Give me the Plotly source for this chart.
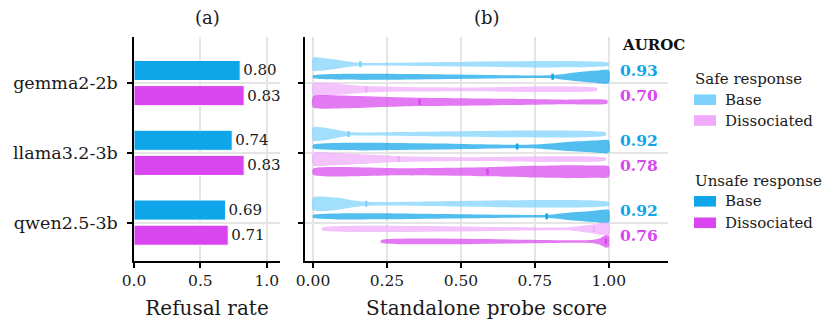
import numpy as np
import plotly.graph_objects as go

# ---------------- data ----------------
models = ["gemma2-2b", "llama3.2-3b", "qwen2.5-3b"]
refusal_base = [0.80, 0.74, 0.69]
refusal_dissoc = [0.83, 0.83, 0.71]
auroc_base = [0.93, 0.92, 0.92]
auroc_dissoc = [0.70, 0.78, 0.76]
xticks_a = [0.0, 0.5, 1.0]
xticks_b = [0.0, 0.25, 0.5, 0.75, 1.0]

# violin density profiles (score knots, relative density)
safe_base_x = [[0, 0.03, 0.08, 0.13, 0.17, 1.0],
               [0, 0.04, 0.08, 0.11, 0.13, 0.99],
               [0, 0.08, 0.125, 0.18, 0.25, 1.0]]
safe_base_d = [[1.0, 0.97, 0.7, 0.35, 0.2, 0.2],
               [1.0, 0.95, 0.6, 0.35, 0.25, 0.22],
               [1.0, 0.95, 0.6, 0.3, 0.25, 0.25]]
unsafe_base_x = [[0, 0.8, 0.86, 0.91, 0.96, 1.0],
                 [0, 0.7, 0.77, 0.86, 0.95, 1.0],
                 [0, 0.79, 0.86, 0.95, 1.0]]
unsafe_base_d = [[0.2, 0.22, 0.5, 0.77, 0.95, 1.0],
                 [0.27, 0.27, 0.35, 0.7, 0.92, 0.97],
                 [0.2, 0.22, 0.55, 0.87, 0.97]]
safe_dis_x = [[0, 0.04, 0.1, 0.18, 0.3, 0.5, 0.96],
              [0, 0.07, 0.18, 0.29, 0.52, 0.99],
              [0.03, 0.85, 0.9, 0.95, 1.0]]
safe_dis_d = [[0.95, 1.0, 0.8, 0.5, 0.35, 0.28, 0.18],
              [0.95, 0.95, 0.7, 0.46, 0.3, 0.2],
              [0.2, 0.22, 0.4, 0.7, 0.97]]
unsafe_dis_x = [[0, 0.08, 0.2, 0.36, 0.63, 0.85, 0.995],
                [0, 0.3, 0.59, 0.75, 0.86, 0.95, 1.0],
                [0.23, 0.94, 0.97, 0.99, 1.0]]
unsafe_dis_d = [[0.88, 1.0, 0.85, 0.65, 0.5, 0.35, 0.25],
                [0.46, 0.54, 0.7, 0.9, 1.0, 0.95, 0.82],
                [0.2, 0.22, 0.5, 0.95, 0.85]]
safe_base_med = [0.16, 0.12, 0.18]
unsafe_base_med = [0.81, 0.69, 0.79]
safe_dis_med = [0.18, 0.29, 0.95]
unsafe_dis_med = [0.36, 0.59, 0.99]

# ---------------- styling ----------------
W, H = 828, 324
ML, MR, MT, MB = 134, 160, 37, 63
FONT = "DejaVu Serif"
C_BASE = "#0ea5e9"
C_DIS = "#d946ef"
C_SBASE = "#7dd3fc"
C_SDIS = "#f0abfc"
GRID = "#e5e5e5"
TXT = "#1a1a1a"


def rgba(hexc, a):
    h = hexc.lstrip("#")
    return "rgba(%d,%d,%d,%.2f)" % (int(h[0:2], 16), int(h[2:4], 16), int(h[4:6], 16), a)


def pxx(p):
    return (p - ML) / (W - ML - MR)


def pxy(p):
    return 1 - (p - MT) / (H - MT - MB)


fig = go.Figure()
pos = list(range(len(models)))

# panel (a): bars
for vals, col in [(refusal_base, C_BASE), (refusal_dissoc, C_DIS)]:
    fig.add_trace(go.Bar(x=vals, y=pos, orientation="h", marker_color=col,
                         marker_line=dict(color="white", width=1),
                         texttemplate="%{x:.2f}", textposition="outside",
                         textfont=dict(size=15, color=TXT, family=FONT),
                         cliponaxis=False, showlegend=False, xaxis="x", yaxis="y"))

# panel (b): violins
HW = 0.093
series = [
    (safe_base_x, safe_base_d, safe_base_med, -0.27, C_SBASE),
    (unsafe_base_x, unsafe_base_d, unsafe_base_med, -0.09, C_BASE),
    (safe_dis_x, safe_dis_d, safe_dis_med, 0.09, C_SDIS),
    (unsafe_dis_x, unsafe_dis_d, unsafe_dis_med, 0.27, C_DIS),
]
for xs_all, ds_all, meds, off, col in series:
    for i in pos:
        xs = np.array(xs_all[i], dtype=float)
        ds = np.array(ds_all[i], dtype=float)
        c = i + off
        X = np.concatenate([xs, xs[::-1], xs[:1]])
        Y = np.concatenate([c - ds * HW, (c + ds * HW)[::-1], [c - ds[0] * HW]])
        fig.add_trace(go.Scatter(x=X, y=Y, mode="lines", fill="toself",
                                 fillcolor=rgba(col, 0.72),
                                 line=dict(width=0, shape="spline", smoothing=0.6),
                                 hoverinfo="skip", showlegend=False, xaxis="x2", yaxis="y2"))
        fig.add_trace(go.Scatter(x=[meds[i], meds[i]], y=[c - 0.043, c + 0.043], mode="lines",
                                 line=dict(color=col, width=2.5), hoverinfo="skip",
                                 showlegend=False, xaxis="x2", yaxis="y2"))

axis_common = dict(showline=True, linecolor="black", linewidth=1.5, ticks="outside",
                   ticklen=5, tickwidth=1.5, tickcolor="black", zeroline=False,
                   showgrid=True, gridcolor=GRID, gridwidth=1.5)
xtickfont = dict(family=FONT, size=15.5, color=TXT)
ytickfont = dict(family=FONT, size=17.5, color=TXT)

fig.update_layout(
    width=W, height=H, margin=dict(l=ML, r=MR, t=MT, b=MB, autoexpand=False),
    paper_bgcolor="white", plot_bgcolor="white",
    barmode="group", bargap=0.28, bargroupgap=0.2,
    font=dict(family=FONT, color=TXT),
    xaxis=dict(domain=[0, pxx(280)], range=[0, 1.1], tickvals=xticks_a,
               ticktext=["%.1f" % v for v in xticks_a], anchor="y", tickfont=xtickfont,
               title=dict(text="Refusal rate", font=dict(size=20, family=FONT), standoff=12),
               **axis_common),
    yaxis=dict(domain=[0, 1], range=[2.55, -0.66], tickvals=pos, ticktext=models,
               anchor="x", tickfont=ytickfont, ticklabelstandoff=6, **axis_common),
    xaxis2=dict(domain=[pxx(305), 1], range=[-0.027, 1.2], tickvals=xticks_b,
                ticktext=["%.2f" % v for v in xticks_b], anchor="y2", tickfont=xtickfont,
                title=dict(text="Standalone probe score", font=dict(size=20, family=FONT), standoff=12),
                **axis_common),
    yaxis2=dict(domain=[0, 1], range=[2.55, -0.66], tickvals=pos, showticklabels=False,
                anchor="x2", **axis_common),
    showlegend=False,
)

ann = []
ann.append(dict(text="(a)", x=pxx(207), y=pxy(18), xref="paper", yref="paper",
                xanchor="center", yanchor="middle",
                showarrow=False, font=dict(size=18, family=FONT, color=TXT)))
ann.append(dict(text="(b)", x=pxx(487), y=pxy(18), xref="paper", yref="paper",
                xanchor="center", yanchor="middle",
                showarrow=False, font=dict(size=18, family=FONT, color=TXT)))
ann.append(dict(text="<b>AUROC</b>", x=pxx(620), y=pxy(45), xref="paper", yref="paper",
                xanchor="left", yanchor="middle", showarrow=False,
                font=dict(size=15, family=FONT, color="#111")))
for i in pos:
    ann.append(dict(text="<b>%.2f</b>" % auroc_base[i], x=1.03, y=i - 0.18, xref="x2", yref="y2",
                    xanchor="left", yanchor="middle", showarrow=False,
                    font=dict(size=15.5, family=FONT, color=C_BASE)))
    ann.append(dict(text="<b>%.2f</b>" % auroc_dissoc[i], x=1.03, y=i + 0.18, xref="x2", yref="y2",
                    xanchor="left", yanchor="middle", showarrow=False,
                    font=dict(size=15.5, family=FONT, color=C_DIS)))

# manual legend
legend_items = [
    ("Safe response", 79, [("Base", 99.7, C_SBASE), ("Dissociated", 120.5, C_SDIS)]),
    ("Unsafe response", 180.7, [("Base", 201.3, C_BASE), ("Dissociated", 222.8, C_DIS)]),
]
shapes = []
for title, ty, items in legend_items:
    ann.append(dict(text=title, x=pxx(693), y=pxy(ty), xref="paper", yref="paper",
                    xanchor="left", yanchor="middle", showarrow=False,
                    font=dict(size=15, family=FONT, color=TXT)))
    for lab, iy, col in items:
        shapes.append(dict(type="rect", xref="paper", yref="paper", x0=pxx(694), x1=pxx(716),
                           y0=pxy(iy - 5.3), y1=pxy(iy + 5.3), fillcolor=col, line=dict(width=0)))
        ann.append(dict(text=lab, x=pxx(723), y=pxy(iy), xref="paper", yref="paper",
                        xanchor="left", yanchor="middle", showarrow=False,
                        font=dict(size=15, family=FONT, color=TXT)))

fig.update_layout(annotations=ann, shapes=shapes)
fig.write_html("out.html", config={"displayModeBar": False},
               post_script="document.body.style.margin='0';")
